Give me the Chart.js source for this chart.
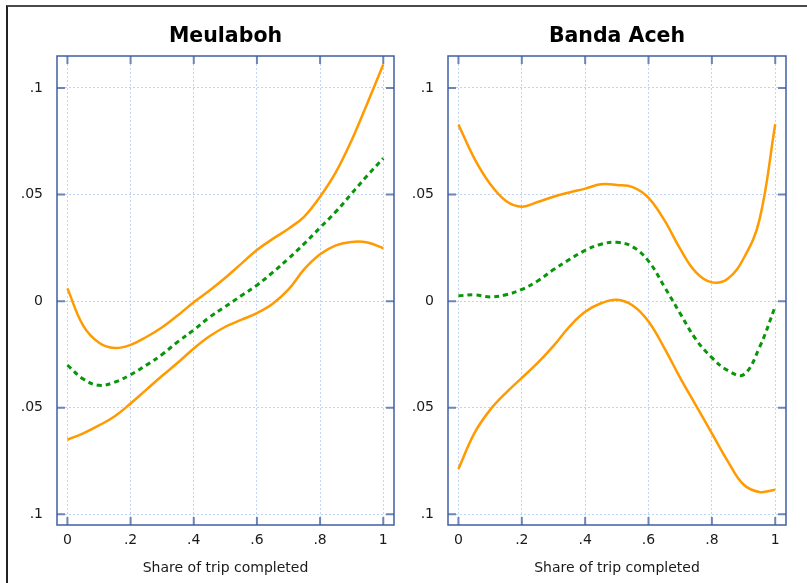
<!DOCTYPE html>
<html>
<head>
<meta charset="utf-8">
<script src="https://cdn.jsdelivr.net/npm/chart.js@4"></script>
<style>
html, body { margin: 0; padding: 0; background: #fff; }
#wrap { position: relative; width: 807px; height: 583px; overflow: hidden; background: #fff; }
#frame { position: absolute; left: 6px; top: 5px; width: 900px; height: 700px; border-top: 2px solid #4a4a4a; border-left: 2px solid #222; }
canvas { position: absolute; top: 0; }
</style>
</head>
<body>
<div id="wrap">
  <div id="frame"></div>
  <canvas id="meulaboh" width="400" height="583" style="left:0px"></canvas>
  <canvas id="banda" width="407" height="583" style="left:400px"></canvas>
</div>
<script>
// share of trip completed (x positions of the smoothed curves)
const shareX = [0, .05, .1, .15, .2, .25, .3, .35, .4, .45, .5, .55, .6, .65, .7, .75, .8, .85, .9, .95, 1];

// Meulaboh
const meuUpper = [0.006, -0.0115, -0.0195, -0.022, -0.0205, -0.0168, -0.0122, -0.0066, -0.0005, 0.005, 0.011, 0.0175, 0.0240, 0.0292, 0.0340, 0.0397, 0.0490, 0.0605, 0.0755, 0.093, 0.111];
const meuMean  = [-0.030, -0.0365, -0.0395, -0.038, -0.0345, -0.030, -0.025, -0.019, -0.0135, -0.0075, -0.0025, 0.0025, 0.0075, 0.0135, 0.020, 0.027, 0.0345, 0.042, 0.0505, 0.059, 0.067];
const meuLower = [-0.065, -0.062, -0.0583, -0.054, -0.048, -0.0415, -0.035, -0.0288, -0.0222, -0.0165, -0.012, -0.0088, -0.0056, -0.0012, 0.0055, 0.0150, 0.0220, 0.0262, 0.0278, 0.0275, 0.0248];

// Banda Aceh
const bandaUpper = [0.0828, 0.067, 0.055, 0.047, 0.0443, 0.0465, 0.049, 0.051, 0.0528, 0.0548, 0.0545, 0.0535, 0.0485, 0.038, 0.0245, 0.0135, 0.0088, 0.0105, 0.020, 0.038, 0.083];
const bandaMean  = [0.0025, 0.003, 0.002, 0.003, 0.0055, 0.0095, 0.0148, 0.0195, 0.0238, 0.0267, 0.0276, 0.0255, 0.0188, 0.0068, -0.0058, -0.018, -0.0265, -0.0325, -0.0345, -0.0218, -0.0025];
const bandaLower = [-0.0787, -0.062, -0.051, -0.043, -0.036, -0.029, -0.021, -0.012, -0.005, -0.001, 0.0007, -0.002, -0.0095, -0.022, -0.036, -0.049, -0.062, -0.075, -0.086, -0.0895, -0.0885];

// axis ticks and their labels (as printed in the original, without minus signs)
const xTicks = [0, .2, .4, .6, .8, 1];
const xTickLabels = ['0', '.2', '.4', '.6', '.8', '1'];
const yTicks = [-0.1, -0.05, 0, 0.05, 0.1];
const yTickLabels = ['.1', '.05', '0', '.05', '.1'];

const axisColor = '#3f5fa3';
const tickColor = '#6d84b6';
const gridColor = '#c0d5f5';
const orange = '#ff9a00';
const green = '#0a960a';

Chart.defaults.font.family = '"DejaVu Sans", Verdana, sans-serif';
Chart.defaults.color = '#1a1a1a';

// plot frame on four sides with inward tick marks, like the original
const frameTicks = {
  id: 'frameTicks',
  afterDraw(chart) {
    const {ctx, chartArea: a, scales: {x, y}} = chart;
    ctx.save();
    ctx.strokeStyle = tickColor;
    ctx.lineWidth = 2;
    ctx.beginPath();
    xTicks.forEach(v => {
      const px = x.getPixelForValue(v);
      ctx.moveTo(px, a.bottom); ctx.lineTo(px, a.bottom - 8);
      ctx.moveTo(px, a.top); ctx.lineTo(px, a.top + 8);
    });
    yTicks.forEach(v => {
      const py = y.getPixelForValue(v);
      ctx.moveTo(a.left, py); ctx.lineTo(a.left + 8, py);
      ctx.moveTo(a.right, py); ctx.lineTo(a.right - 8, py);
    });
    ctx.stroke();
    ctx.strokeStyle = axisColor;
    ctx.lineWidth = 1.5;
    ctx.strokeRect(a.left, a.top, a.right - a.left, a.bottom - a.top);
    ctx.restore();
  }
};

function pts(arr) {
  return shareX.map((x, i) => ({x: x, y: arr[i]}));
}

function makePanel(id, title, upper, mean, lower, yWidth, padRight) {
  return new Chart(document.getElementById(id), {
    type: 'line',
    data: {
      datasets: [
        {data: pts(upper), borderColor: orange, borderWidth: 2.5, pointRadius: 0, tension: 0.4, fill: false},
        {data: pts(lower), borderColor: orange, borderWidth: 2.5, pointRadius: 0, tension: 0.4, fill: false},
        {data: pts(mean), borderColor: green, borderWidth: 3, borderDash: [5, 4], pointRadius: 0, tension: 0.4, fill: false}
      ]
    },
    options: {
      responsive: false,
      animation: false,
      layout: {padding: {left: 0, right: padRight, top: 0, bottom: 0}},
      plugins: {
        legend: {display: false},
        tooltip: {enabled: false},
        title: {
          display: true,
          text: title,
          fullSize: false,
          color: '#000',
          font: {size: 20.5, weight: 'bold'},
          padding: {top: 24, bottom: 7.4}
        }
      },
      scales: {
        x: {
          type: 'linear',
          min: -0.033,
          max: 1.034,
          afterBuildTicks: s => { s.ticks = xTicks.map(v => ({value: v})); },
          afterFit: s => { s.height = 58; },
          ticks: {
            callback: (v, i) => xTickLabels[i],
            padding: 7,
            maxRotation: 0,
            autoSkip: false,
            font: {size: 14}
          },
          grid: {color: gridColor, lineWidth: 1, drawTicks: false},
          border: {display: false, dash: [2, 2]},
          title: {
            display: true,
            text: 'Share of trip completed',
            font: {size: 14},
            padding: {top: 4, bottom: 6}
          }
        },
        y: {
          type: 'linear',
          min: -0.105,
          max: 0.115,
          afterBuildTicks: s => { s.ticks = yTicks.map(v => ({value: v})); },
          afterFit: s => { s.width = yWidth; },
          ticks: {
            callback: (v, i) => yTickLabels[i],
            padding: 14,
            font: {size: 14}
          },
          grid: {color: gridColor, lineWidth: 1, drawTicks: false},
          border: {display: false, dash: [2, 2]}
        }
      }
    },
    plugins: [frameTicks]
  });
}

makePanel('meulaboh', 'Meulaboh', meuUpper, meuMean, meuLower, 57, 6);
makePanel('banda', 'Banda Aceh', bandaUpper, bandaMean, bandaLower, 48, 21);
</script>
</body>
</html>
